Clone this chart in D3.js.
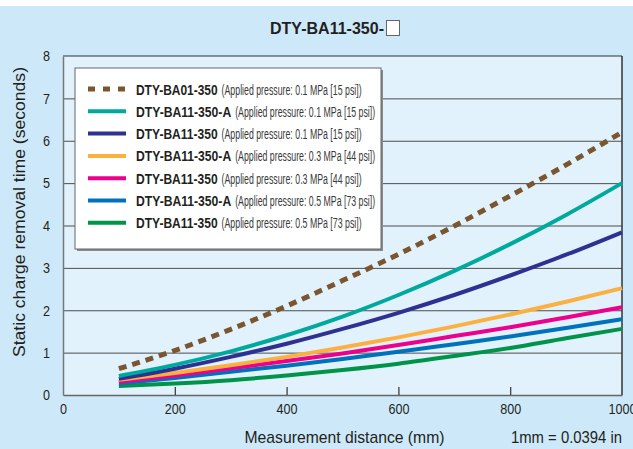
<!DOCTYPE html>
<html>
<head>
<meta charset="utf-8">
<script src="https://cdn.jsdelivr.net/npm/d3@7"></script>
<style>
  html, body { margin: 0; padding: 0; background: #fff; }
  svg { display: block; }
</style>
</head>
<body>
<div id="chart"></div>
<script>
// ---- data ----
const distances = [100, 200, 300, 400, 500, 600, 700, 800, 900, 1000];

const ba01_01  = [0.62, 1.05, 1.55, 2.10, 2.70, 3.32, 3.99, 4.70, 5.43, 6.20];
const ba11a_01 = [0.45, 0.71, 1.03, 1.41, 1.85, 2.36, 2.93, 3.56, 4.25, 5.00];
const ba11_01  = [0.38, 0.62, 0.90, 1.21, 1.56, 1.94, 2.36, 2.82, 3.31, 3.84];
const ba11a_03 = [0.36, 0.52, 0.70, 0.90, 1.12, 1.36, 1.62, 1.90, 2.20, 2.52];
const ba11_03  = [0.31, 0.46, 0.63, 0.80, 0.98, 1.18, 1.39, 1.60, 1.83, 2.07];
const ba11a_05 = [0.27, 0.40, 0.55, 0.69, 0.85, 1.02, 1.20, 1.38, 1.58, 1.79];
const ba11_05  = [0.21, 0.27, 0.35, 0.46, 0.59, 0.74, 0.92, 1.11, 1.34, 1.56];

const models    = ["DTY-BA01-350", "DTY-BA11-350-A", "DTY-BA11-350", "DTY-BA11-350-A", "DTY-BA11-350", "DTY-BA11-350-A", "DTY-BA11-350"];
const pressures = ["(Applied pressure: 0.1 MPa [15 psi])", "(Applied pressure: 0.1 MPa [15 psi])", "(Applied pressure: 0.1 MPa [15 psi])",
                   "(Applied pressure: 0.3 MPa [44 psi])", "(Applied pressure: 0.3 MPa [44 psi])",
                   "(Applied pressure: 0.5 MPa [73 psi])", "(Applied pressure: 0.5 MPa [73 psi])"];
const seriesValues = [ba01_01, ba11a_01, ba11_01, ba11a_03, ba11_03, ba11a_05, ba11_05];
const colours   = ["#7b5530", "#00a99d", "#2e3192", "#fbb040", "#ec008c", "#0072bc", "#00944a"];

const xTicks = [0, 200, 400, 600, 800, 1000];
const yTicks = [0, 1, 2, 3, 4, 5, 6, 7, 8];

// ---- layout ----
const W = 633, H = 449;
const PLOT = { left: 63, right: 622, top: 56, bottom: 395 };
const FONT = "Liberation Sans Narrow, Arial Narrow, Liberation Sans, sans-serif";
const INK = "#231f20";

const svg = d3.select("#chart").append("svg")
  .attr("width", W).attr("height", H);

// backgrounds
svg.append("rect").attr("width", W).attr("height", H).attr("fill", "#fff");
svg.append("rect").attr("y", 6).attr("width", W).attr("height", H - 6).attr("fill", "#cde9f9");
svg.append("rect")
  .attr("x", PLOT.left).attr("y", PLOT.top)
  .attr("width", PLOT.right - PLOT.left).attr("height", PLOT.bottom - PLOT.top)
  .attr("fill", "#e1f2fc");

const x = d3.scaleLinear().domain([0, 1000]).range([PLOT.left, PLOT.right]);
const y = d3.scaleLinear().domain([0, 8]).range([PLOT.bottom, PLOT.top]);

// gridlines
svg.append("g")
  .attr("transform", `translate(${PLOT.left},0)`)
  .call(d3.axisLeft(y).tickValues(yTicks.slice(1, -1)).tickSize(-(PLOT.right - PLOT.left)).tickFormat(""))
  .call(g => g.select(".domain").remove())
  .call(g => g.selectAll("line").attr("stroke", "#4d4d4d").attr("stroke-width", 1));

// frame
svg.append("line").attr("x1", PLOT.left).attr("x2", PLOT.right).attr("y1", PLOT.top).attr("y2", PLOT.top)
  .attr("stroke", "#333").attr("stroke-width", 1.2);
svg.append("line").attr("x1", PLOT.right).attr("x2", PLOT.right).attr("y1", PLOT.top).attr("y2", PLOT.bottom)
  .attr("stroke", "#333").attr("stroke-width", 1.5);

// x axis (ticks point up into the plot)
const xAxis = svg.append("g")
  .attr("transform", `translate(0,${PLOT.bottom})`)
  .call(d3.axisBottom(x).tickValues(xTicks).tickFormat(d3.format("d"))
    .tickSizeInner(-8).tickSizeOuter(0).tickPadding(8));
xAxis.select(".domain").attr("stroke", "#666").attr("stroke-width", 1.5);
xAxis.selectAll(".tick line").attr("stroke", "#333").attr("stroke-width", 1.2)
  .filter(d => d === 0 || d === 1000).remove();
xAxis.selectAll("text")
  .attr("font-size", 15).attr("fill", INK).attr("font-family", FONT)
  .attr("textLength", d => String(d).length * 7).attr("lengthAdjust", "spacingAndGlyphs");

// y axis
const yAxis = svg.append("g")
  .attr("transform", `translate(${PLOT.left},0)`)
  .call(d3.axisLeft(y).tickValues(yTicks).tickSize(0).tickPadding(13));
yAxis.select(".domain").attr("stroke", "#777").attr("stroke-width", 1.5);
yAxis.selectAll("text")
  .attr("font-size", 15).attr("fill", INK).attr("font-family", FONT)
  .attr("textLength", 7).attr("lengthAdjust", "spacingAndGlyphs");

// curves
const line = d3.line()
  .x((d, i) => x(distances[i]))
  .y(d => y(d))
  .curve(d3.curveMonotoneX);

const curves = svg.append("g");
for (let s = seriesValues.length - 1; s >= 0; s--) {
  curves.append("path")
    .attr("d", line(seriesValues[s]))
    .attr("fill", "none")
    .attr("stroke", colours[s])
    .attr("stroke-width", s === 0 ? 5 : 4)
    .attr("stroke-dasharray", s === 0 ? "8,6" : null);
}

// legend
const LEG = { x: 75, y: 68, w: 306, h: 181 };
svg.append("rect").attr("x", LEG.x + 2).attr("y", LEG.y + 2).attr("width", LEG.w).attr("height", LEG.h).attr("fill", "#8a8a8a");
svg.append("rect").attr("x", LEG.x).attr("y", LEG.y).attr("width", LEG.w).attr("height", LEG.h)
  .attr("fill", "#fff").attr("stroke", "#666").attr("stroke-width", 1);

const legend = svg.append("g").attr("font-family", FONT);
models.forEach((m, i) => {
  const cy = 89 + i * 22.3;
  legend.append("line")
    .attr("x1", 88).attr("x2", 126).attr("y1", cy).attr("y2", cy)
    .attr("stroke", colours[i]).attr("stroke-width", i === 0 ? 5 : 4)
    .attr("stroke-dasharray", i === 0 ? "7,8" : null);
  const bw = m.length * 6.8;
  legend.append("text")
    .attr("x", 136).attr("y", cy + 5.5)
    .attr("font-size", 15.5).attr("font-weight", "bold").attr("fill", INK)
    .attr("textLength", bw).attr("lengthAdjust", "spacingAndGlyphs")
    .text(m);
  legend.append("text")
    .attr("x", 136 + bw + 4).attr("y", cy + 5.5)
    .attr("font-size", 14).attr("fill", "#3a3a3a")
    .attr("textLength", 140).attr("lengthAdjust", "spacingAndGlyphs")
    .text(pressures[i]);
});

// title
svg.append("text")
  .attr("x", 270).attr("y", 34)
  .attr("font-family", FONT).attr("font-size", 17).attr("font-weight", "bold").attr("fill", INK)
  .attr("textLength", 114).attr("lengthAdjust", "spacingAndGlyphs")
  .text("DTY-BA11-350-");
svg.append("rect").attr("x", 386.5).attr("y", 20.5).attr("width", 13).attr("height", 15)
  .attr("fill", "#fff").attr("stroke", "#666").attr("stroke-width", 1);

// axis titles
svg.append("text")
  .attr("transform", `translate(25,212) rotate(-90)`)
  .attr("text-anchor", "middle")
  .attr("font-family", FONT).attr("font-size", 17).attr("fill", INK)
  .attr("textLength", 290).attr("lengthAdjust", "spacingAndGlyphs")
  .text("Static charge removal time (seconds)");

svg.append("text")
  .attr("x", 244.5).attr("y", 443)
  .attr("font-family", FONT).attr("font-size", 17).attr("fill", INK)
  .attr("textLength", 200).attr("lengthAdjust", "spacingAndGlyphs")
  .text("Measurement distance (mm)");

svg.append("text")
  .attr("x", 511).attr("y", 443)
  .attr("font-family", FONT).attr("font-size", 17).attr("fill", INK)
  .attr("textLength", 111).attr("lengthAdjust", "spacingAndGlyphs")
  .text("1mm = 0.0394 in");
</script>
</body>
</html>
